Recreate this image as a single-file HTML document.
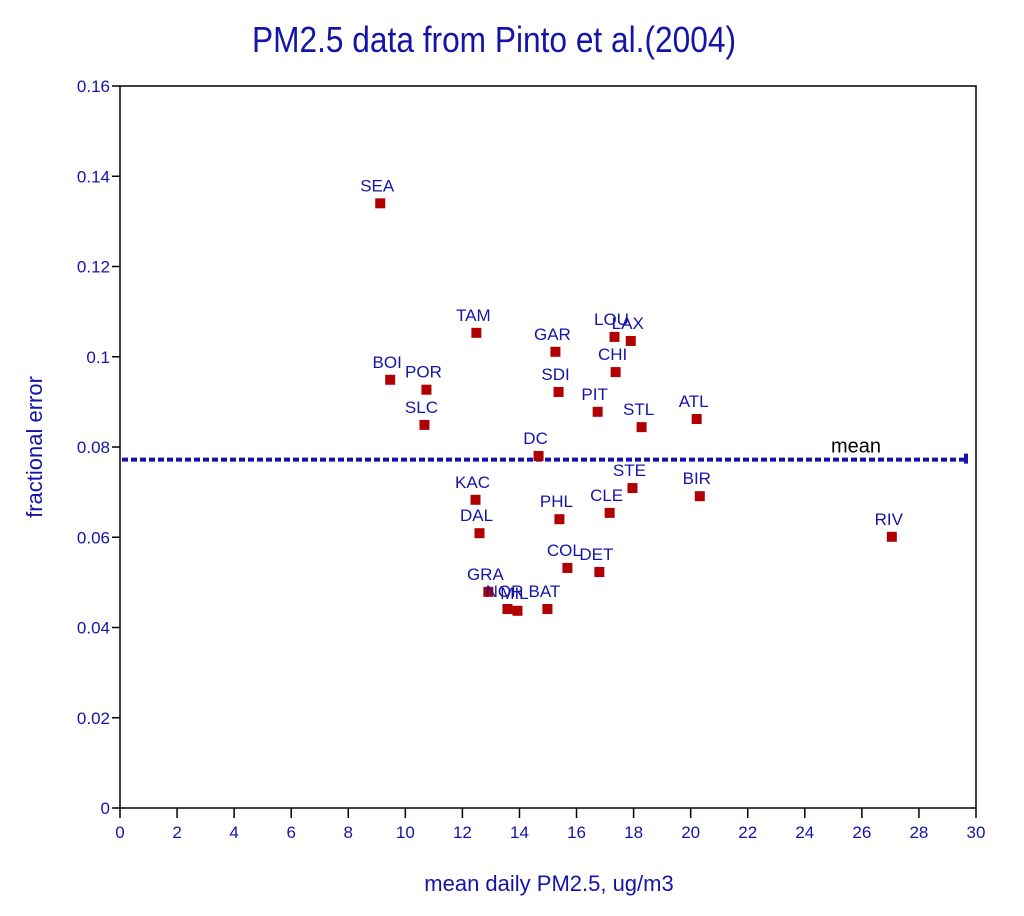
<!DOCTYPE html>
<html><head><meta charset="utf-8"><style>
body{margin:0;background:#fff;}
svg{display:block;font-family:"Liberation Sans",sans-serif;}
</style></head><body>
<svg id="chart" width="1024" height="916" viewBox="0 0 1024 916">
<text x="494" y="52" text-anchor="middle" font-size="36" fill="#1414a8" transform="translate(494,0) scale(0.88,1) translate(-494,0)">PM2.5 data from Pinto et al.(2004)</text>
<rect x="120" y="86" width="856" height="722" fill="none" stroke="#000" stroke-width="1.5"/>
<g id="axes"></g>
<g id="marks"></g>
<text x="0" y="0" font-size="22" fill="#1414a8" text-anchor="middle" transform="translate(42,447) rotate(-90)">fractional error</text>
<text x="549" y="891" font-size="22" fill="#1414a8" text-anchor="middle">mean daily PM2.5, ug/m3</text>
</svg>
<script>
const sites=["SEA","BOI","POR","SLC","TAM","GAR","SDI","LOU","LAX","CHI","PIT","STL","ATL","DC","STE","BIR","KAC","DAL","PHL","CLE","COL","DET","GRA","NOR","MIL","BAT","RIV"];
const pm25=[9.12,9.47,10.74,10.67,12.49,15.26,15.37,17.33,17.9,17.37,16.74,18.28,20.21,14.67,17.96,20.32,12.46,12.6,15.4,17.16,15.68,16.8,12.91,13.58,13.93,14.98,27.05];
const fracErr=[0.134,0.0949,0.0927,0.0849,0.1053,0.1011,0.0922,0.1044,0.1035,0.0966,0.0878,0.0844,0.0862,0.078,0.0709,0.0691,0.0683,0.0609,0.064,0.0654,0.0532,0.0523,0.0479,0.0441,0.0437,0.0441,0.0601];
const meanErr=0.0772;
const xTicks=[0,2,4,6,8,10,12,14,16,18,20,22,24,26,28,30];
const yTicks=[0,0.02,0.04,0.06,0.08,0.1,0.12,0.14,0.16];
const NS="http://www.w3.org/2000/svg";
const X=v=>120+v*(856/30);
const Y=v=>808-v*(722/0.16);
const axes=document.getElementById('axes'),marks=document.getElementById('marks');
function mk(tag,attrs,parent){const e=document.createElementNS(NS,tag);for(const k in attrs)e.setAttribute(k,attrs[k]);parent.appendChild(e);return e;}
xTicks.forEach(t=>{
  const l=mk('line',{x1:X(t),x2:X(t),y1:808,y2:818,stroke:'#000','stroke-width':1.5},axes);
  
  
  const tx=mk('text',{x:X(t),y:838,'text-anchor':'middle','font-size':17,fill:'#1414a8'},axes);
  tx.textContent=t;
  
  
});
yTicks.forEach(t=>{
  const l=mk('line',{x1:112,x2:120,y1:Y(t),y2:Y(t),stroke:'#000','stroke-width':1.5},axes);
  
  
  const tx=mk('text',{x:110,y:Y(t)+6,'text-anchor':'end','font-size':17,fill:'#1414a8'},axes);
  tx.textContent=t;
  
  
});
const ml=mk('line',{x1:122,x2:966,y1:Y(meanErr),y2:Y(meanErr),stroke:'#1414a8','stroke-width':4,'stroke-dasharray':'6 3'},marks);


const mr=mk('rect',{x:964,y:Y(meanErr)-6,width:4,height:10,fill:'#1414a8'},marks);


const mt=mk('text',{x:856,y:Y(meanErr)-7,'text-anchor':'middle','font-size':20,fill:'#000'},marks);
mt.textContent='mean';


sites.forEach((s,i)=>{
  const px=X(pm25[i]),py=Y(fracErr[i]);
  const r=mk('rect',{x:px-5,y:py-5,width:10,height:10,fill:'#b00000'},marks);
  
  
  const t=mk('text',{x:px-3,y:py-12,'text-anchor':'middle','font-size':17,fill:'#1414a8'},marks);
  t.textContent=s;
  
  
});
</script>
</body></html>
